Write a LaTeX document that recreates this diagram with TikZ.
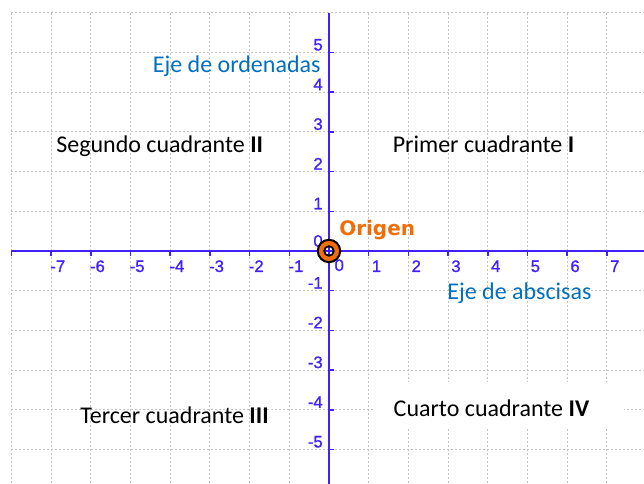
\documentclass[tikz,border=0pt]{standalone}
\usepackage{fontspec}
\setmainfont{Carlito}
\newfontfamily\tickfont[RawFeature={embolden=1.0}]{Liberation Sans}
\newfontfamily\origfont{DejaVu Sans}
\definecolor{axiscol}{RGB}{64,32,255}
\definecolor{gridcol}{RGB}{195,195,195}
\definecolor{ejecol}{RGB}{0,112,192}
\definecolor{origcol}{RGB}{240,110,10}
\begin{document}
\begin{tikzpicture}[x=29.775pt,y=29.775pt,
  gridline/.style={gridcol, line width=0.75pt, dash pattern=on 1.5pt off 1.5pt},
  axisline/.style={axiscol, line width=1.5pt},
  tickline/.style={axiscol, line width=1.1pt},
  ticklabel/.style={text=axiscol, font=\tickfont\fontsize{12.5}{14}\selectfont, inner sep=0pt},
  quad/.style={font=\fontsize{18}{21}\selectfont, inner sep=0pt, anchor=base},
  eje/.style={quad, text=ejecol}]
\useasboundingbox (-8.287,-5.869) rectangle (7.935,6.322);
\fill[white] (-8.287,-5.869) rectangle (7.935,6.322);
% grid
\foreach \k in {-5,...,6} \draw[gridline] (-8,\k) -- (7.935,\k);
\foreach \k in {-8,...,7} \draw[gridline] (\k,6) -- (\k,-5.869);
% white background of the fourth quadrant label
\fill[white] (1.108,-3.292) rectangle (7.431,-4.466);
% axes
\coordinate (xl) at (-8,0);
\coordinate (xr) at (7.935,0);
\coordinate (yt) at (0,6);
\coordinate (yb) at (0,-5.869);
\coordinate (O) at (0,0);
\draw[axisline] (xl) -- (xr);
\draw[axisline] (yt) -- (yb);
\foreach \k in {-8,...,7} \draw[tickline] (\k,0) -- ++(0,-3.75pt);
\foreach \k in {-5,...,5} \draw[tickline] (0,\k) -- ++(3.75pt,0);
% x tick labels
\foreach \k in {-7,...,-1}
  \node[ticklabel, anchor=base west, xshift=-0.75pt, yshift=-15.75pt] (xt\k) at (\k,0) {\k};
\foreach \k in {1,...,7}
  \node[ticklabel, anchor=base west, xshift=2.25pt, yshift=-15.75pt] (xt\k) at (\k,0) {\k};
\node[ticklabel, anchor=base west, xshift=4pt, yshift=-15pt] (xt0) at (0,0) {0};
% y tick labels
\foreach \k in {-5,...,-1,1,2,3,4,5}
  \node[ticklabel, anchor=base east, xshift=-4.5pt, yshift=1.5pt] (yt\k) at (0,\k) {\k};
\node[ticklabel, anchor=base east, xshift=-4.5pt, yshift=3.2pt] (yt0) at (0,0) {0};
% origin marker
\fill[origcol, even odd rule] (O) circle[radius=8.6pt] (O) circle[radius=3.6pt];
\draw[black, line width=1.5pt] (O) circle[radius=8.4pt];
\draw[black, line width=1.3pt] (O) circle[radius=3.6pt];
\node[inner sep=0pt, anchor=base west, text=origcol, font=\origfont\bfseries\fontsize{15}{18}\selectfont] (orig) at (0.252,0.378) {Origen};
% labels
\node[eje] (ord) at (-2.325,4.491) {Eje de ordenadas};
\node[eje] (abs) at (4.798,-1.234) {Eje de abscisas};
\node[quad] (q2) at (-4.264,2.486) {Segundo cuadrante \textbf{II}};
\node[quad] (q1) at (3.892,2.469) {Primer cuadrante \textbf{I}};
\node[quad] (q3) at (-3.892,-4.34) {Tercer cuadrante \textbf{III}};
\node[quad] (q4) at (4.093,-4.174) {Cuarto cuadrante \textbf{IV}};
\end{tikzpicture}
\end{document}
